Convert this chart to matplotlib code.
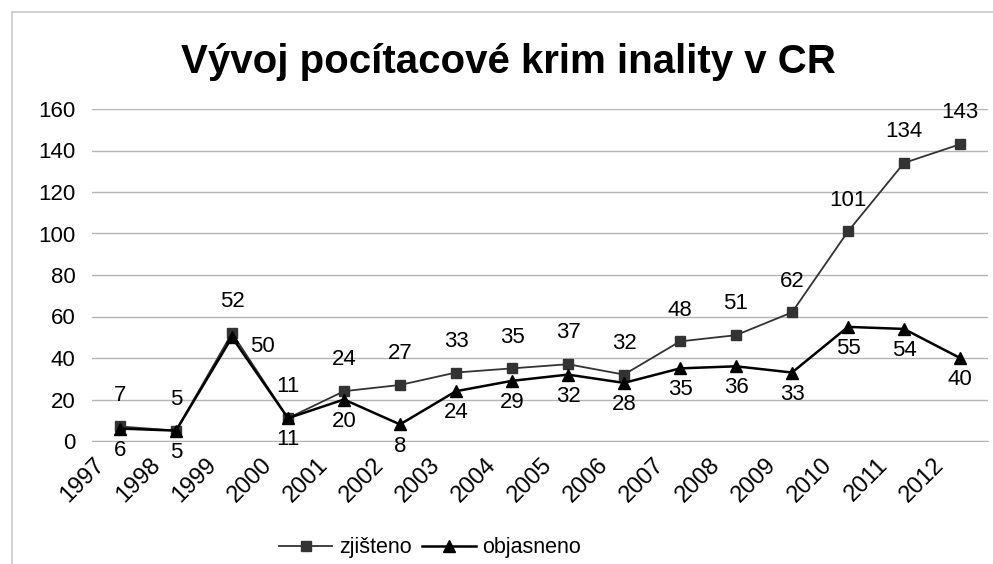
import matplotlib
matplotlib.use("Agg")
import matplotlib.pyplot as plt
import matplotlib.transforms as mtransforms
from matplotlib.patches import Rectangle

# Data
years = ["1997", "1998", "1999", "2000", "2001", "2002", "2003", "2004",
         "2005", "2006", "2007", "2008", "2009", "2010", "2011", "2012"]
zjisteno = [7, 5, 52, 11, 24, 27, 33, 35, 37, 32, 48, 51, 62, 101, 134, 143]
objasneno = [6, 5, 50, 11, 20, 8, 24, 29, 32, 28, 35, 36, 33, 55, 54, 40]

plt.rcParams['font.family'] = ['Liberation Sans', 'DejaVu Sans']

fig = plt.figure(figsize=(9.93, 5.64), dpi=100)
W, H = 993.0, 564.0

# chart frame
fig.patches.append(Rectangle((12 / W, -0.1), 1.2, (564 - 12) / H + 0.1,
                             transform=fig.transFigure, fill=False,
                             edgecolor="#c8c8c8", linewidth=1.2))

ax = fig.add_axes([92 / W, (H - 441) / H, 896 / W, (441 - 109) / H])
x = list(range(len(years)))

ax.plot(x, zjisteno, color="#333333", linewidth=1.3, marker="s",
        markersize=7.5, markerfacecolor="#333333", markeredgecolor="#333333",
        label="zjišteno", zorder=3)
ax.plot(x, objasneno, color="black", linewidth=1.8, marker="^",
        markersize=8.5, markerfacecolor="black", markeredgecolor="black",
        label="objasneno", zorder=4)

ax.set_xlim(-0.5, len(years) - 0.5)
ax.set_ylim(0, 160)
ax.set_yticks(range(0, 161, 20))
ax.yaxis.grid(True, color="#b4b4b4", linewidth=1)
ax.set_axisbelow(True)
for s in ["top", "right", "left"]:
    ax.spines[s].set_visible(False)
ax.spines["bottom"].set_color("#b4b4b4")
ax.tick_params(axis="y", length=0, pad=12, labelsize=16)
ax.tick_params(axis="x", length=0, labelsize=17)
ax.set_xticks(x)
ax.set_xticklabels(years, rotation=45, ha="right", va="center",
                   rotation_mode="anchor")
shift = mtransforms.ScaledTranslation(-19 / 100, -16 / 100, fig.dpi_scale_trans)
for lbl in ax.get_xticklabels():
    lbl.set_transform(lbl.get_transform() + shift)

# value labels
for i, v in enumerate(zjisteno):
    ax.annotate(str(v), (i, v), xytext=(0, 15), textcoords="offset points",
                ha="center", va="bottom", fontsize=16)
for i, v in enumerate(objasneno):
    if i == 2:
        ax.annotate(str(v), (i, v), xytext=(22, -7), textcoords="offset points",
                    ha="center", va="center", fontsize=16)
    else:
        ax.annotate(str(v), (i, v), xytext=(0, -8), textcoords="offset points",
                    ha="center", va="top", fontsize=16)

fig.text(508 / W, 1 - 62 / H, "Vývoj pocítacové krim inality v CR",
         ha="center", va="center", fontsize=29, fontweight="bold")

fig.legend(loc="center", bbox_to_anchor=(430 / W, 1 - 548 / H), ncol=2,
           frameon=False, fontsize=15.5, handlelength=2.5, columnspacing=0.5,
           handletextpad=0.3)

fig.savefig("out.png", dpi=100)
